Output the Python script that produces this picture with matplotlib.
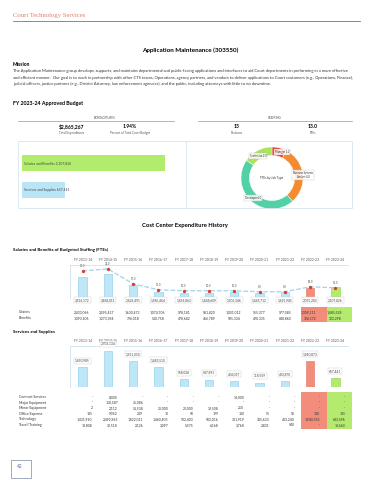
import matplotlib.pyplot as plt
from matplotlib.patches import Rectangle
from matplotlib.lines import Line2D
import matplotlib.transforms as mtransforms

# --- dati ---
years = ["FY 2013-14", "FY 2014-15", "FY 2015-16", "FY 2016-17", "FY 2017-18", "FY 2018-19",
         "FY 2019-20", "FY 2020-21", "FY 2021-22", "FY 2022-23", "FY 2023-24"]
salaries = [2433066, 2595427, 1630473, 1074706, 978181, 981820, 1001012, 955377, 977085, 1309111, 1485528]
benefits = [1093106, 1273384, 796018, 510758, 478682, 466789, 505334, 490335, 648860, 726172, 722298]
ftes = [30.0, 32.0, 17.0, 11.0, 10.0, 10.0, 10.0, 9.0, 9.0, 14.0, 13.0]

contract_services = [0, 8000, 0, 0, 0, 0, 38000, 0, 0, 0, 0]
major_equipment = [0, 158587, 35086, 0, 0, 0, 0, 0, 0, 0, 0]
minor_equipment = [2, 2112, 51538, 20000, 20000, 39508, 250, 0, 0, 0, 0]
office_expense = [185, 9052, 289, 10, 50, 199, 100, 95, 90, 110, 185]
technology = [1431990, 2492865, 1822011, 1460403, 532403, 502016, 381919, 315633, 433240, 1940763, 643596]
travel_training = [18808, 32518, 2126, 3097, 5575, 6168, 3768, 2831, 540, 0, 13660]

job_types = ["Manager", "Business Systems\nAnalyst", "Developer", "Technician"]
job_ftes = [1.0, 4.0, 6.0, 2.0]
job_colors = ["#e8412c", "#f58a2e", "#52d0a6", "#a9e35f"]

pct_court_budget = "1.94%"
positions = 13

sb_total = [s + b for s, b in zip(salaries, benefits)]
ss_rows = [("Contract Services", contract_services), ("Major Equipment", major_equipment),
           ("Minor Equipment", minor_equipment), ("Office Expense", office_expense),
           ("Technology", technology), ("Travel/Training", travel_training)]
ss_total = [sum(r[1][i] for r in ss_rows) for i in range(len(years))]

plt.rcParams['font.family'] = ['Lato', 'DejaVu Sans']
W, H = 370, 480
fig = plt.figure(figsize=(W / 100, H / 100), dpi=100)

# helper coordinate in pixel
def fx(x): return x / W
def fy(y): return 1 - y / H
def txt(x, y, s, **kw):
    kw.setdefault('va', 'center')
    fig.text(fx(x), fy(y), s, **kw)
def axes_px(x0, y0, x1, y1):
    return fig.add_axes([fx(x0), fy(y1), (x1 - x0) / W, (y1 - y0) / H])
def line(x0, y0, x1, y1, color, lw):
    fig.add_artist(Line2D([fx(x0), fx(x1)], [fy(y0), fy(y1)], color=color, lw=lw))
def box(x0, y0, x1, y1, **kw):
    fig.add_artist(Rectangle((fx(x0), fy(y1)), (x1 - x0) / W, (y1 - y0) / H,
                             transform=fig.transFigure, **kw))

def fmt(v):
    return "-" if v == 0 else f"{v:,.0f}"

# intestazione
txt(13, 15, "Court Technology Services", family='Liberation Serif', fontsize=4.8, color='#e27a68')
line(13, 21, 360, 21, '#777777', 0.6)
txt(190, 50, "Application Maintenance (303550)", fontsize=4.5, weight='bold', ha='center')

txt(13, 64, "Mission", fontsize=3.6, weight='bold')
mission = ["The Application Maintenance group develops, supports, and maintains departmental and public-facing applications and interfaces to aid Court departments in performing in a more effective",
           "and efficient manner.  Our goal is to work in partnership with other CTS teams, Operations, agency partners, and vendors to deliver applications to Court customers (e.g., Operations, Finance),",
           "judicial officers, justice partners (e.g., District Attorney, law enforcement agencies), and the public, including attorneys with little to no downtime."]
for k, s in enumerate(mission):
    txt(13, 71 + k * 6.5, s, fontsize=2.95, color='#333333')

txt(13, 104, "FY 2023-24 Approved Budget", fontsize=3.8, weight='bold')

# riquadri di sintesi
txt(105, 118, "EXPENDITURES", fontsize=2.2, color='#555555', ha='center')
line(18, 121, 174, 121, '#999999', 0.5)
txt(275, 118, "STAFFING", fontsize=2.2, color='#555555', ha='center')
line(198, 121, 352, 121, '#999999', 0.5)
total_exp = sb_total[-1] + ss_total[-1]
for x, big, small in [(72, f"${total_exp:,}", "Total Expenditures"),
                      (130, pct_court_budget, "Percent of Total Court Budget"),
                      (237, f"{positions}", "Positions"),
                      (313, f"{sum(job_ftes):.1f}", "FTEs")]:
    txt(x, 127, big, fontsize=3.6, weight='bold', ha='center')
    txt(x, 133, small, fontsize=2.2, color='#555555', ha='center')

box(18, 141, 352, 208, fill=False, edgecolor='#d5e6ef', lw=0.6)
line(186, 141, 186, 208, '#d5e6ef', 0.6)

# barre orizzontali
axh = axes_px(22, 141, 186, 208)
hb_vals = [sb_total[-1], ss_total[-1]]
hb_names = ["Salaries and Benefits", "Services and Supplies"]
axh.barh([0, 1], hb_vals, height=0.6, color=["#b2ec6c", "#b9e5f7"])
for i, (n, v) in enumerate(zip(hb_names, hb_vals)):
    axh.text(25000, i, f"{n} {v:,}", fontsize=2.4, color='#444444', va='center')
axh.set_xlim(0, 2532000)
axh.set_ylim(1.667, -0.815)
axh.axis('off')

# donut
axd = axes_px(241, 147, 303, 209)
axd.pie(job_ftes, colors=job_colors, startangle=90, counterclock=False,
        wedgeprops=dict(width=0.27, edgecolor='white', linewidth=0.3))
axd.set_xlim(-1, 1)
axd.set_ylim(-1, 1)
axd.set_aspect('equal')
axd.axis('off')
axd.text(0, 0, "FTEs by Job Type", fontsize=2.2, ha='center', va='center', color='#333333')
lbl_pos = [(282, 152), (303, 175), (253, 198), (258, 156)]
for (x, y), n, v in zip(lbl_pos, job_types, job_ftes):
    txt(x, y, f"{n} {v:.1f}", fontsize=1.9, ha='center', color='#333333', linespacing=1.0,
        bbox=dict(boxstyle='square,pad=0.3', fc='white', ec='#bbbbbb', lw=0.3, alpha=0.85))

txt(185, 226, "Cost Center Expenditure History", fontsize=4.2, weight='bold', ha='center')

# colori barre
bar_colors = ["#bde6f7"] * 9 + ["#f28d7b", "#b4ea6e"]
edge_colors = ["#86cbe8"] * 9 + ["#e07260", "#90d050"]
frame = '#cfe2ee'
X0, X1 = 70, 348
colw = (X1 - X0) / len(years)
def col_px(i): return X0 + (i + 0.5) * colw

def style_ax(ax):
    for s in ['right', 'bottom']:
        ax.spines[s].set_visible(False)
    for s in ['top', 'left']:
        ax.spines[s].set_color(frame)
        ax.spines[s].set_linewidth(0.6)
    ax.xaxis.tick_top()
    ax.set_xticks(range(len(years)))
    ax.set_xticklabels(years, fontsize=2.4, color='#555555')
    ax.tick_params(length=0, pad=2)
    ax.set_yticks([])
    ax.set_xlim(-0.5, len(years) - 0.5)

# grafico 1: stipendi e benefit
txt(13, 250, "Salaries and Benefits of Budgeted Staffing (FTEs)", fontsize=3.2, weight='bold')
ax1 = axes_px(X0, 265, X1, 298)
ax1.bar(range(len(years)), sb_total, width=0.33, color=bar_colors, edgecolor=edge_colors, lw=0.4)
ax1.set_ylim(800000, 5000000)
style_ax(ax1)
trans = mtransforms.blended_transform_factory(ax1.transData, ax1.transAxes)
for i, v in enumerate(sb_total):
    ax1.text(i, -0.06, f"{v:,}", transform=trans, fontsize=2.3, ha='center', va='center',
             color='#444444', clip_on=False,
             bbox=dict(boxstyle='square,pad=0.3', fc='white', ec='#cccccc', lw=0.3))
ax1b = ax1.twinx()
ax1b.plot(range(len(years)), ftes, ls='--', color='#9fd3ee', lw=0.9, zorder=2)
ax1b.plot(range(len(years)), ftes, 'o', color='#d9412f', ms=1.4, zorder=3)
for i, f in enumerate(ftes):
    ax1b.annotate(f"{f:.1f}", (i, f), xytext=(0, 1.8), textcoords='offset points',
                  fontsize=2.0, ha='center', va='bottom', color='#555555')
ax1b.set_ylim(2.7, 36)
ax1b.axis('off')

for xi in (9, 10):
    box(col_px(xi) - 8.6, 307, col_px(xi) + colw - 8.6, 322,
        color=bar_colors[xi], lw=0)
for y, name, vals in [(312, "Salaries", salaries), (318, "Benefits", benefits)]:
    txt(19, y, name, fontsize=2.5, color='#333333')
    for i, v in enumerate(vals):
        txt(col_px(i) + 6.5, y, fmt(v), fontsize=2.4, ha='right', color='#333333')

# grafico 2: servizi e forniture
txt(13, 332, "Services and Supplies", fontsize=3.2, weight='bold')
ax2 = axes_px(X0, 346, X1, 387)
ax2.bar(range(len(years)), ss_total, width=0.33, color=bar_colors, edgecolor=edge_colors, lw=0.4)
ax2.set_ylim(0, 3050000)
style_ax(ax2)
for i, v in enumerate(ss_total):
    ax2.annotate(f"{v:,}", (i, v), xytext=(0, 3.5), textcoords='offset points',
                 fontsize=2.3, ha='center', va='bottom', color='#444444', annotation_clip=False,
                 bbox=dict(boxstyle='square,pad=0.3', fc='white', ec='#cccccc', lw=0.3))

for xi in (9, 10):
    box(col_px(xi) - 8.6, 392, col_px(xi) + colw - 8.6, 429,
        color=bar_colors[xi], lw=0)
for k, (name, vals) in enumerate(ss_rows):
    y = 397 + k * 5.6
    txt(19, y, name, fontsize=2.5, color='#333333')
    for i, v in enumerate(vals):
        txt(col_px(i) + 10, y, fmt(v), fontsize=2.4, ha='right', color='#333333')

# numero pagina
box(11, 460, 31, 478, fill=False, edgecolor='#8f9cb8', lw=0.6)
txt(17, 467, "42", fontsize=3.4, color='#5b6a96')

fig.savefig("out.png", dpi=100)
